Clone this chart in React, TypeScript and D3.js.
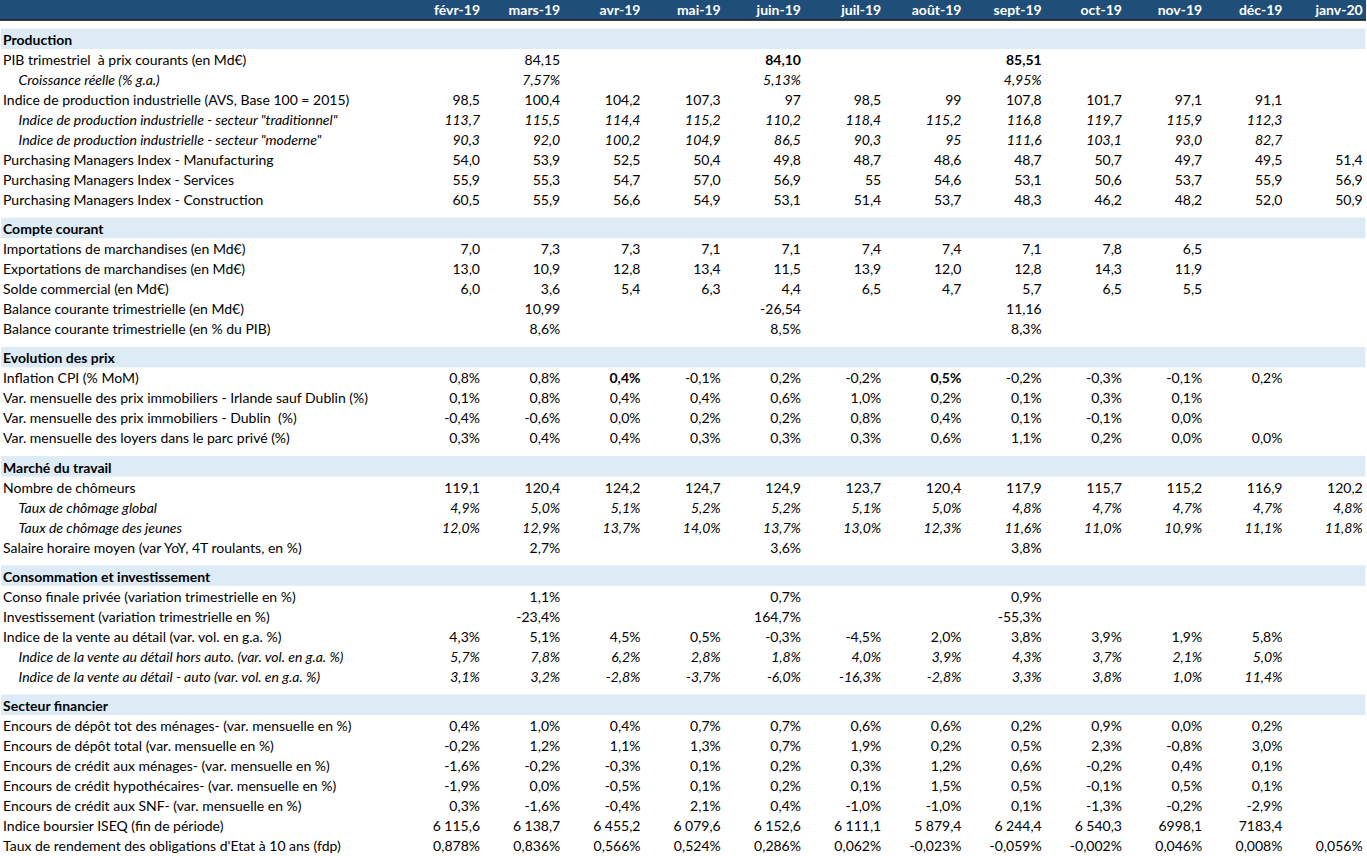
import React from "react";
import * as d3 from "d3";

const months = ["févr-19","mars-19","avr-19","mai-19","juin-19","juil-19","août-19","sept-19","oct-19","nov-19","déc-19","janv-20"];

const _ = null;

// Production
const pibCourant = [_, 84.15, _, _, 84.10, _, _, 85.51, _, _, _, _];
const croissanceReelle = [_, 7.57, _, _, 5.13, _, _, 4.95, _, _, _, _];
const ipi = [98.5, 100.4, 104.2, 107.3, 97, 98.5, 99, 107.8, 101.7, 97.1, 91.1, _];
const ipiTraditionnel = [113.7, 115.5, 114.4, 115.2, 110.2, 118.4, 115.2, 116.8, 119.7, 115.9, 112.3, _];
const ipiModerne = [90.3, 92.0, 100.2, 104.9, 86.5, 90.3, 95, 111.6, 103.1, 93.0, 82.7, _];
const pmiManufacturing = [54.0, 53.9, 52.5, 50.4, 49.8, 48.7, 48.6, 48.7, 50.7, 49.7, 49.5, 51.4];
const pmiServices = [55.9, 55.3, 54.7, 57.0, 56.9, 55, 54.6, 53.1, 50.6, 53.7, 55.9, 56.9];
const pmiConstruction = [60.5, 55.9, 56.6, 54.9, 53.1, 51.4, 53.7, 48.3, 46.2, 48.2, 52.0, 50.9];

// Compte courant
const importations = [7.0, 7.3, 7.3, 7.1, 7.1, 7.4, 7.4, 7.1, 7.8, 6.5, _, _];
const exportations = [13.0, 10.9, 12.8, 13.4, 11.5, 13.9, 12.0, 12.8, 14.3, 11.9, _, _];
const soldeCommercial = [6.0, 3.6, 5.4, 6.3, 4.4, 6.5, 4.7, 5.7, 6.5, 5.5, _, _];
const balanceMd = [_, 10.99, _, _, -26.54, _, _, 11.16, _, _, _, _];
const balancePib = [_, 8.6, _, _, 8.5, _, _, 8.3, _, _, _, _];

// Evolution des prix
const inflationCpi = [0.8, 0.8, 0.4, -0.1, 0.2, -0.2, 0.5, -0.2, -0.3, -0.1, 0.2, _];
const immoHorsDublin = [0.1, 0.8, 0.4, 0.4, 0.6, 1.0, 0.2, 0.1, 0.3, 0.1, _, _];
const immoDublin = [-0.4, -0.6, 0.0, 0.2, 0.2, 0.8, 0.4, 0.1, -0.1, 0.0, _, _];
const loyers = [0.3, 0.4, 0.4, 0.3, 0.3, 0.3, 0.6, 1.1, 0.2, 0.0, 0.0, _];

// Marché du travail
const chomeurs = [119.1, 120.4, 124.2, 124.7, 124.9, 123.7, 120.4, 117.9, 115.7, 115.2, 116.9, 120.2];
const tauxChomage = [4.9, 5.0, 5.1, 5.2, 5.2, 5.1, 5.0, 4.8, 4.7, 4.7, 4.7, 4.8];
const tauxChomageJeunes = [12.0, 12.9, 13.7, 14.0, 13.7, 13.0, 12.3, 11.6, 11.0, 10.9, 11.1, 11.8];
const salaireHoraire = [_, 2.7, _, _, 3.6, _, _, 3.8, _, _, _, _];

// Consommation et investissement
const consoFinale = [_, 1.1, _, _, 0.7, _, _, 0.9, _, _, _, _];
const investissement = [_, -23.4, _, _, 164.7, _, _, -55.3, _, _, _, _];
const venteDetail = [4.3, 5.1, 4.5, 0.5, -0.3, -4.5, 2.0, 3.8, 3.9, 1.9, 5.8, _];
const venteHorsAuto = [5.7, 7.8, 6.2, 2.8, 1.8, 4.0, 3.9, 4.3, 3.7, 2.1, 5.0, _];
const venteAuto = [3.1, 3.2, -2.8, -3.7, -6.0, -16.3, -2.8, 3.3, 3.8, 1.0, 11.4, _];

// Secteur financier
const depotMenages = [0.4, 1.0, 0.4, 0.7, 0.7, 0.6, 0.6, 0.2, 0.9, 0.0, 0.2, _];
const depotTotal = [-0.2, 1.2, 1.1, 1.3, 0.7, 1.9, 0.2, 0.5, 2.3, -0.8, 3.0, _];
const creditMenages = [-1.6, -0.2, -0.3, 0.1, 0.2, 0.3, 1.2, 0.6, -0.2, 0.4, 0.1, _];
const creditHypo = [-1.9, 0.0, -0.5, 0.1, 0.2, 0.1, 1.5, 0.5, -0.1, 0.5, 0.1, _];
const creditSnf = [0.3, -1.6, -0.4, 2.1, 0.4, -1.0, -1.0, 0.1, -1.3, -0.2, -2.9, _];
const iseq = [6115.6, 6138.7, 6455.2, 6079.6, 6152.6, 6111.1, 5879.4, 6244.4, 6540.3, 6998.1, 7183.4, _];
const oat10 = [0.878, 0.836, 0.566, 0.524, 0.286, 0.062, -0.023, -0.059, -0.002, 0.046, 0.008, 0.056];

// cells shown in "general" format, without thousands separator, or in bold
const generalCells = [["ipi", 4], ["ipi", 6], ["ipiModerne", 6], ["pmiServices", 5]];
const noGroupCells = [["iseq", 9], ["iseq", 10]];
const boldCells = [["pibCourant", 4], ["pibCourant", 7], ["inflationCpi", 2], ["inflationCpi", 6]];

type Row = { key: string; label: string; values: (number | null)[]; fmt: string; italic?: boolean };
type Section = { title: string; rows: Row[] };

const sections: Section[] = [
  { title: "Production", rows: [
    { key: "pibCourant", label: "PIB trimestriel  à prix courants (en Md€)", values: pibCourant, fmt: "d2" },
    { key: "croissanceReelle", label: "Croissance réelle (% g.a.)", values: croissanceReelle, fmt: "p2", italic: true },
    { key: "ipi", label: "Indice de production industrielle (AVS, Base 100 = 2015)", values: ipi, fmt: "d1" },
    { key: "ipiTraditionnel", label: "Indice de production industrielle - secteur \"traditionnel\"", values: ipiTraditionnel, fmt: "d1", italic: true },
    { key: "ipiModerne", label: "Indice de production industrielle - secteur \"moderne\"", values: ipiModerne, fmt: "d1", italic: true },
    { key: "pmiManufacturing", label: "Purchasing Managers Index - Manufacturing", values: pmiManufacturing, fmt: "d1" },
    { key: "pmiServices", label: "Purchasing Managers Index - Services", values: pmiServices, fmt: "d1" },
    { key: "pmiConstruction", label: "Purchasing Managers Index - Construction", values: pmiConstruction, fmt: "d1" },
  ]},
  { title: "Compte courant", rows: [
    { key: "importations", label: "Importations de marchandises (en Md€)", values: importations, fmt: "d1" },
    { key: "exportations", label: "Exportations de marchandises (en Md€)", values: exportations, fmt: "d1" },
    { key: "soldeCommercial", label: "Solde commercial (en Md€)", values: soldeCommercial, fmt: "d1" },
    { key: "balanceMd", label: "Balance courante trimestrielle (en Md€)", values: balanceMd, fmt: "d2" },
    { key: "balancePib", label: "Balance courante trimestrielle (en % du PIB)", values: balancePib, fmt: "p1" },
  ]},
  { title: "Evolution des prix", rows: [
    { key: "inflationCpi", label: "Inflation CPI (% MoM)", values: inflationCpi, fmt: "p1" },
    { key: "immoHorsDublin", label: "Var. mensuelle des prix immobiliers - Irlande sauf Dublin (%)", values: immoHorsDublin, fmt: "p1" },
    { key: "immoDublin", label: "Var. mensuelle des prix immobiliers - Dublin  (%)", values: immoDublin, fmt: "p1" },
    { key: "loyers", label: "Var. mensuelle des loyers dans le parc privé (%)", values: loyers, fmt: "p1" },
  ]},
  { title: "Marché du travail", rows: [
    { key: "chomeurs", label: "Nombre de chômeurs", values: chomeurs, fmt: "d1" },
    { key: "tauxChomage", label: "Taux de chômage global", values: tauxChomage, fmt: "p1", italic: true },
    { key: "tauxChomageJeunes", label: "Taux de chômage des jeunes", values: tauxChomageJeunes, fmt: "p1", italic: true },
    { key: "salaireHoraire", label: "Salaire horaire moyen (var YoY, 4T roulants, en %)", values: salaireHoraire, fmt: "p1" },
  ]},
  { title: "Consommation et investissement", rows: [
    { key: "consoFinale", label: "Conso finale privée (variation trimestrielle en %)", values: consoFinale, fmt: "p1" },
    { key: "investissement", label: "Investissement (variation trimestrielle en %)", values: investissement, fmt: "p1" },
    { key: "venteDetail", label: "Indice de la vente au détail (var. vol. en g.a. %)", values: venteDetail, fmt: "p1" },
    { key: "venteHorsAuto", label: "Indice de la vente au détail hors auto. (var. vol. en g.a. %)", values: venteHorsAuto, fmt: "p1", italic: true },
    { key: "venteAuto", label: "Indice de la vente au détail - auto (var. vol. en g.a. %)", values: venteAuto, fmt: "p1", italic: true },
  ]},
  { title: "Secteur financier", rows: [
    { key: "depotMenages", label: "Encours de dépôt tot des ménages- (var. mensuelle en %)", values: depotMenages, fmt: "p1" },
    { key: "depotTotal", label: "Encours de dépôt total (var. mensuelle en %)", values: depotTotal, fmt: "p1" },
    { key: "creditMenages", label: "Encours de crédit aux ménages- (var. mensuelle en %)", values: creditMenages, fmt: "p1" },
    { key: "creditHypo", label: "Encours de crédit hypothécaires- (var. mensuelle en %)", values: creditHypo, fmt: "p1" },
    { key: "creditSnf", label: "Encours de crédit aux SNF- (var. mensuelle en %)", values: creditSnf, fmt: "p1" },
    { key: "iseq", label: "Indice boursier ISEQ (fin de période)", values: iseq, fmt: "g1" },
    { key: "oat10", label: "Taux de rendement des obligations d'Etat à 10 ans (fdp)", values: oat10, fmt: "p3" },
  ]},
];

const locale = d3.formatLocale({ decimal: ",", thousands: "\u202F", grouping: [3], currency: ["", "€"], minus: "-" });

function has(list: (string | number)[][], key: string, i: number) {
  return list.some(([k, j]) => k === key && j === i);
}

function formatCell(row: Row, i: number): string {
  const v = row.values[i];
  if (v === null || v === undefined) return "";
  if (has(generalCells, row.key, i)) return String(v).replace(".", ",");
  switch (row.fmt) {
    case "d1": return locale.format(".1f")(v);
    case "d2": return locale.format(".2f")(v);
    case "g1": return has(noGroupCells, row.key, i) ? locale.format(".1f")(v) : locale.format(",.1f")(v);
    case "p1": return locale.format(".1f")(v) + "%";
    case "p2": return locale.format(".2f")(v) + "%";
    case "p3": return locale.format(".3f")(v) + "%";
    default: return String(v);
  }
}

const W = 1367;
const H = 856;
const FONT = "Lato, 'Open Sans', sans-serif";
const FS = 14;

export default function App() {
  const x = d3.scalePoint<string>().domain(months).range([480, 1362.7]);

  const firstCenter = 40;
  const rowH = 20;
  const sectionGap = 29.2;

  const layout: { s: Section; center: number; rowCenters: number[] }[] = [];
  let c = firstCenter;
  sections.forEach((s) => {
    const rowCenters = s.rows.map((_r, k) => c + rowH * (k + 1));
    layout.push({ s, center: c, rowCenters });
    c = c + rowH * s.rows.length + sectionGap;
  });

  return (
    <svg width={W} height={H} style={{ position: "absolute", left: 0, top: 0, display: "block", background: "#fff", whiteSpace: "pre" }} fontFamily={FONT} fontSize={FS}>
      <rect x={0} y={0} width={1366} height={19.5} fill="#1F4E78" />
      <line x1={0} x2={1366} y1={20} y2={20} stroke="#000" strokeWidth={1.3} />
      {months.map((m) => (
        <text key={m} x={x(m)} y={15} textAnchor="end" fill="#fff" fontWeight="bold">{m}</text>
      ))}
      {layout.map(({ s, center, rowCenters }) => (
        <g key={s.title}>
          <rect x={1} y={center - 11.5} width={1364.5} height={20.5} fill="#DDEBF7" />
          <text x={3} y={center + 5} fontWeight="bold" fill="#000">{s.title}</text>
          {s.rows.map((r, k) => (
            <g key={r.key} fontStyle={r.italic ? "italic" : "normal"}>
              <text x={r.italic ? 18.5 : 3} y={rowCenters[k] + 5} fill="#000" style={{ whiteSpace: "pre" }}>{r.label}</text>
              {months.map((m, i) => {
                const t = formatCell(r, i);
                if (!t) return null;
                return (
                  <text key={m} x={x(m)} y={rowCenters[k] + 5} textAnchor="end" fill="#000"
                    fontWeight={has(boldCells, r.key, i) ? "bold" : "normal"}>{t}</text>
                );
              })}
            </g>
          ))}
        </g>
      ))}
    </svg>
  );
}
